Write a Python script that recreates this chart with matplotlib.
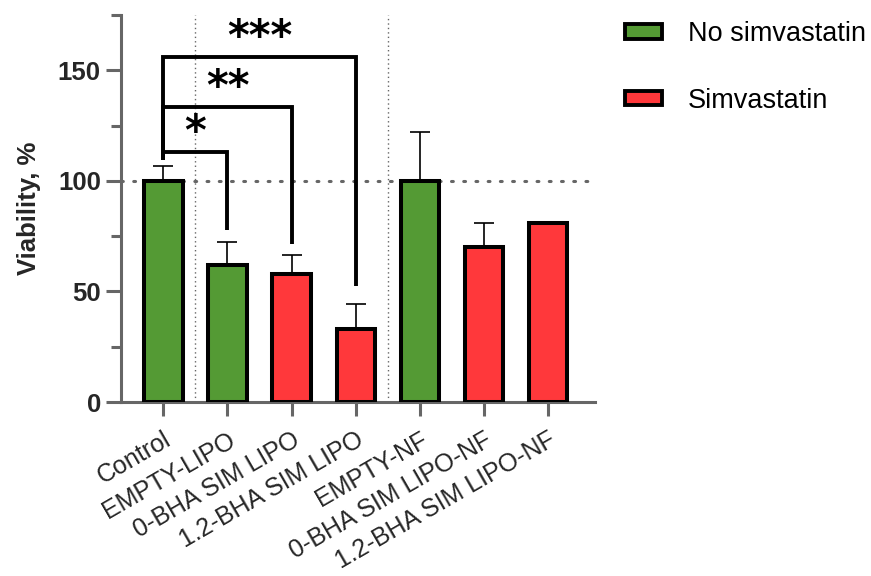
import matplotlib
matplotlib.use("Agg")
import matplotlib.pyplot as plt
from matplotlib.patches import Patch
import numpy as np

categories = ["Control", "EMPTY-LIPO", "0-BHA SIM LIPO", "1.2-BHA SIM LIPO",
              "EMPTY-NF", "0-BHA SIM LIPO-NF", "1.2-BHA SIM LIPO-NF"]
means = [100, 62, 58, 33, 100, 70, 81]
sd_upper = [6.5, 10.5, 8.5, 11.3, 22, 11, 0.5]
simvastatin = [False, False, True, True, False, True, True]

# significance comparisons: (from index, to index, label, bracket height, right leg bottom)
sig_pairs = [(0, 1, "*", 113, 78), (0, 2, "**", 133.5, 71.5), (0, 3, "***", 156, 52.5)]
sig_left_bottom = 109.5

GREEN = "#549a34"
RED = "#ff383b"
GREY = "#666666"
TXT = "#262626"

plt.rcParams['font.family'] = ['Liberation Sans', 'DejaVu Sans']

fig = plt.figure(figsize=(8.71, 5.76), dpi=100)
ax = fig.add_axes([121/871, 1-402/576, (595-121)/871, (402-15)/576])

x = np.arange(len(categories))
colors = [RED if s else GREEN for s in simvastatin]

ax.errorbar(x, means, yerr=[np.zeros(len(x)), sd_upper], fmt='none', ecolor='black',
            elinewidth=1.2, capsize=7.5, capthick=1.2, zorder=2)
ax.bar(x, means, width=0.6, color=colors, edgecolor='black', linewidth=2.9, zorder=3)

ax.axhline(100, color=GREY, lw=2.2, linestyle=(0, (0.6, 3.4)), dash_capstyle='round', zorder=1)
for xv in [0.5, 3.5]:
    ax.axvline(xv, color=GREY, lw=1.0, linestyle=(0, (1, 2.2)), zorder=1)

# brackets
for i0, i1, lab, h, bottom in sig_pairs:
    ax.plot([x[i0], x[i0], x[i1], x[i1]], [sig_left_bottom, h, h, bottom], color='black',
            lw=2.8, solid_joinstyle='miter', solid_capstyle='butt', zorder=4)
    ax.text((x[i0] + x[i1]) / 2, h + 3.0, lab, ha='center', va='baseline',
            fontsize=30, fontweight='bold', family='DejaVu Sans', zorder=5)

ax.set_xlim(-0.66, 6.73)
ax.set_ylim(0, 175)
ax.set_yticks([0, 50, 100, 150])
ax.set_yticks([25, 75, 125, 175], minor=True)
ax.set_yticklabels(["0", "50", "100", "150"], fontsize=18.5, fontweight='bold', color=TXT)
ax.set_xticks(x)
ax.set_xticklabels(categories, rotation=30, ha='right', va='top', rotation_mode='anchor',
                   fontsize=18, color=TXT)
ax.set_ylabel("Viability, %", fontsize=18.5, fontweight='bold', color=TXT, labelpad=12.5)

for s in ['top', 'right']:
    ax.spines[s].set_visible(False)
for s in ['left', 'bottom']:
    ax.spines[s].set_color(GREY)
    ax.spines[s].set_linewidth(2.2)
ax.tick_params(axis='y', which='major', length=11, width=2.2, color=GREY, pad=3.5)
ax.tick_params(axis='y', which='minor', length=7, width=2.2, color=GREY)
ax.tick_params(axis='x', which='major', length=10, width=2.2, color=GREY, pad=8.5)

handles = [Patch(facecolor=GREEN, edgecolor='black', linewidth=2.8, label='No simvastatin'),
           Patch(facecolor=RED, edgecolor='black', linewidth=2.8, label='Simvastatin')]
fig.legend(handles=handles, loc='upper left', bbox_to_anchor=(625/871, 1 - 21/576), frameon=False,
           fontsize=19.5, handlelength=1.37, handleheight=0.45, handletextpad=0.96,
           labelspacing=1.5, borderpad=0, borderaxespad=0)

fig.savefig("out.png", dpi=100)
